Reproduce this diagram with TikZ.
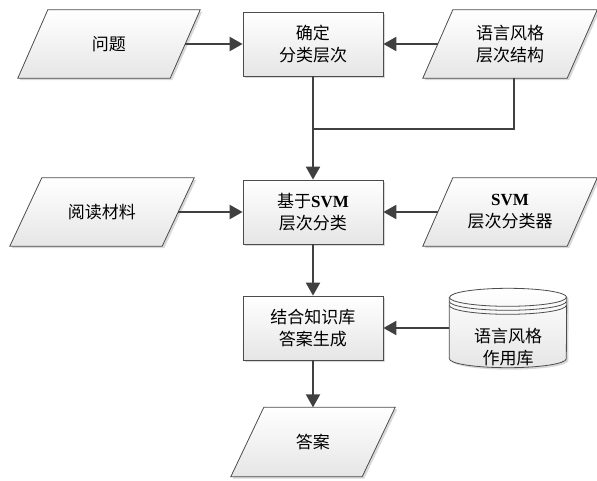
\documentclass[tikz,border=0pt]{standalone}
\usepackage{fontspec}
\setmainfont{Liberation Serif}
\newfontfamily\cjk{Noto Sans CJK SC}
\usetikzlibrary{shapes.geometric, positioning, arrows.meta, shadows, backgrounds}
\newcommand{\svmtext}{{\rmfamily\bfseries SVM}}
\tikzset {
    >={Triangle[width=14pt,length=13pt]},
    node distance=200pt,
    every node/.style={font=\cjk\fontsize{17}{22}\selectfont, align=center},
    shadowed/.style={drop shadow={shadow xshift=2pt, shadow yshift=-2pt, fill=black!30, opacity=0.5}},
    filled/.style={shadowed, top color=white, bottom color=black!10, draw=black!70, line width=0.8pt},
    box/.style={rectangle, filled, minimum width=140pt, minimum height=64pt},
    data/.style={rectangle, minimum width=152pt, minimum height=68pt},
    flow/.style={->, draw=black!75, line width=2.2pt},
    link/.style={draw=black!75, line width=2.2pt}
}

\begin{document}
\begin{tikzpicture}
    \useasboundingbox (-313pt,44pt) rectangle (284pt,-436pt);

    \node[box] (fix) {确定\\分类层次};
    \node[data, left of=fix, node distance=204pt] (ques) {问题};
    \node[data, right of=fix, node distance=197pt, minimum width=144pt] (struct) {语言风格\\层次结构};
    \node[box, below of=fix, node distance=168pt] (svmcls) {基于\svmtext\\层次分类};
    \node[data, left of=svmcls, node distance=211pt] (reading) {阅读材料};
    \node[data, right of=svmcls, node distance=197pt, minimum width=144pt] (svmtool) {\svmtext\\层次分类器};
    \node[box, below of=svmcls, node distance=116pt] (gen) {结合知识库\\答案生成};
    \node[data, below of=gen, node distance=114pt, minimum width=131pt, minimum height=69pt] (ans) {答案};

    % parallelograms behind the data nodes
    \begin{scope}[on background layer]
        \foreach \n/\s in {ques/15, struct/15, reading/16, svmtool/15, ans/16.5}
            \path[filled] ([xshift=\s pt]\n.north west) -- ([xshift=\s pt]\n.north east)
                -- ([xshift=-\s pt]\n.south east) -- ([xshift=-\s pt]\n.south west) -- cycle;
    \end{scope}

    % knowledge base cylinder
    \node[right of=gen, node distance=195pt, minimum width=117pt, minimum height=61pt, inner sep=0pt] (lib) {};
    \path[filled] (lib.north west) -- (lib.south west)
        arc[start angle=180, end angle=360, x radius=58.5pt, y radius=9pt]
        -- (lib.north east)
        arc[start angle=0, end angle=180, x radius=58.5pt, y radius=9pt] -- cycle;
    \draw[black!70, line width=0.8pt] (lib.north west) arc[start angle=180, end angle=360, x radius=58.5pt, y radius=9pt];
    \draw[black!70, line width=0.8pt] ([yshift=-4pt]lib.north west) arc[start angle=180, end angle=360, x radius=58.5pt, y radius=9pt];
    \draw[black!70, line width=0.8pt] ([yshift=-8pt]lib.north west) arc[start angle=180, end angle=360, x radius=58.5pt, y radius=9pt];
    \node[below of=lib, node distance=19pt] (libtext) {语言风格\\作用库};

    \coordinate[below of=fix, node distance=85pt] (join);

    \draw[flow] (ques) -- (fix);
    \draw[flow] (struct) -- (fix);
    \draw[link] ([xshift=4pt]struct.south) |- (join);
    \draw[flow] (fix) -- (svmcls);
    \draw[flow] (reading) -- (svmcls);
    \draw[flow] (svmtool) -- (svmcls);
    \draw[flow] (svmcls) -- (gen);
    \draw[flow] (lib) -- (gen);
    \draw[flow] (gen) -- (ans);
\end{tikzpicture}
\end{document}
